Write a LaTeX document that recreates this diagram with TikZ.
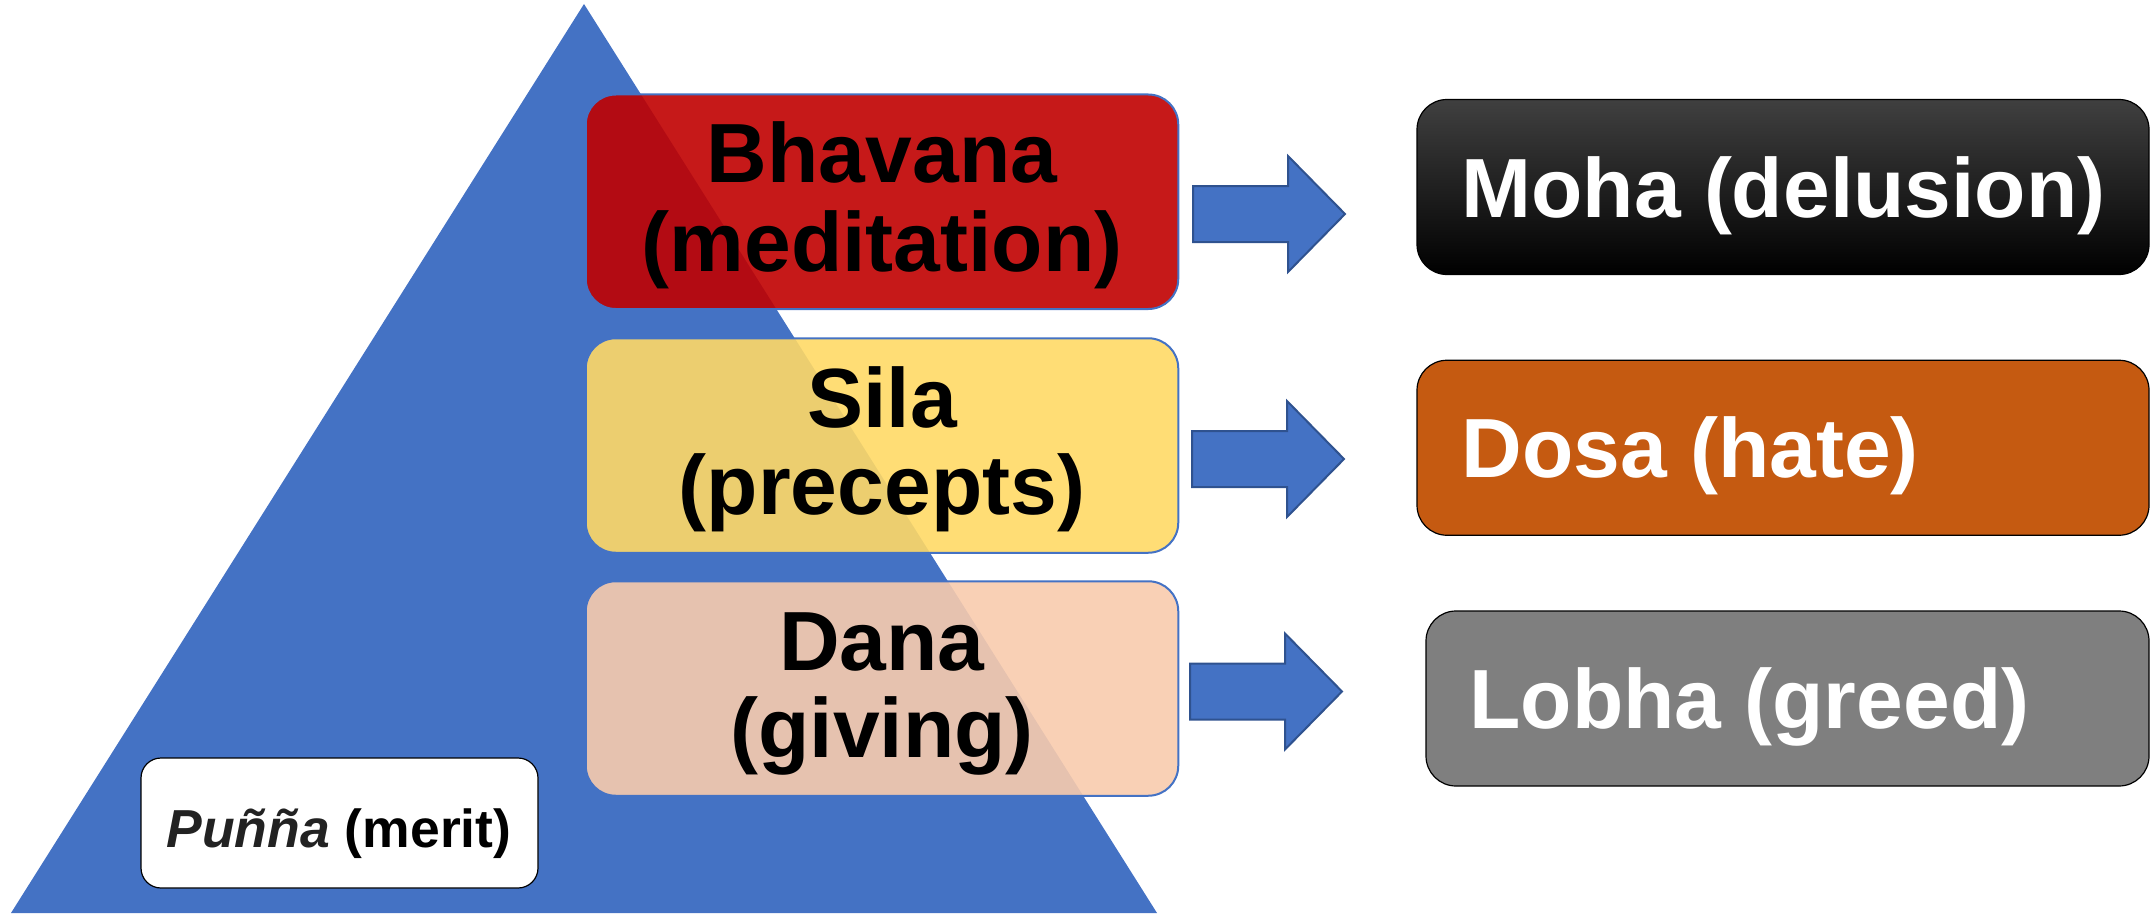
\documentclass[tikz,border=0pt]{standalone}
\usepackage{fontspec}
\setmainfont{Liberation Sans}
\usetikzlibrary{calc}
\definecolor{triblue}{HTML}{4472C4}
\definecolor{arrowedge}{HTML}{2F528F}
\definecolor{bhavred}{HTML}{C00000}
\definecolor{silayel}{HTML}{FFD966}
\definecolor{danapeach}{HTML}{F8CBAD}
\definecolor{dosaorange}{HTML}{C55A11}
\definecolor{lobhagray}{HTML}{7F7F7F}
\definecolor{punnatext}{HTML}{222222}
\tikzset{
  leftbox/.style={draw=triblue, line width=1pt, rounded corners=15pt, fill opacity=0.9,
    minimum width=296.25pt, minimum height=107.25pt, inner sep=0pt},
  rightbox/.style={draw=black, line width=0.6pt, rounded corners=15pt,
    minimum height=87.5pt, inner sep=0pt},
  bigtext/.style={inner sep=0pt, font=\fontsize{42pt}{44pt}\selectfont\bfseries},
  barrow/.style={fill=triblue, draw=arrowedge, line width=1pt, line join=miter},
  blockarrow/.pic={\draw[barrow] (0,-28) -- (95,-28) -- (95,-58) -- (152,0) -- (95,58) -- (95,28) -- (0,28) -- cycle;}
}
\begin{document}
\begin{tikzpicture}[x=0.5pt,y=-0.5pt]
\useasboundingbox (0,0) rectangle (2152,915);
% pyramid
\fill[triblue] (584,4) -- (1157,913) -- (11,913) -- cycle;
% left boxes
\node[leftbox, fill=bhavred] (bhav) at (882,201.75) {};
\node[leftbox, fill=silayel] (sila) at (882,445.5) {};
\node[leftbox, fill=danapeach] (dana) at (882,688.5) {};
\node[bigtext, anchor=base] (bhav1) at (882,183) {Bhavana};
\node[bigtext, anchor=base] (bhav2) at (882,271) {(meditation)};
\node[bigtext, anchor=base] (sila1) at (882,427) {Sila};
\node[bigtext, anchor=base] (sila2) at (882,514) {(precepts)};
\node[bigtext, anchor=base] (dana1) at (882,670) {Dana};
\node[bigtext, anchor=base] (dana2) at (882,757) {(giving)};
% merit box
\node[draw=black, line width=0.6pt, fill=white, rounded corners=10pt,
  minimum width=198.5pt, minimum height=65pt, inner sep=0pt] (punna) at (339.5,823) {};
\node[inner sep=0pt, anchor=base, font=\fontsize{26.75pt}{28pt}\selectfont\bfseries] (punnat) at (339,847)
  {\textcolor{punnatext}{\itshape Puñña} (merit)};
% arrows
\coordinate (a1) at (1193,214);
\coordinate (a2) at (1192,459);
\coordinate (a3) at (1190,691.5);
\pic at (a1) {blockarrow};
\pic at (a2) {blockarrow};
\pic at (a3) {blockarrow};
% right boxes
\node[rightbox, minimum width=366pt, top color=black!75, middle color=black, bottom color=black] (moha) at (1783,187) {};
\node[rightbox, minimum width=366pt, fill=dosaorange] (dosa) at (1783,447.75) {};
\node[rightbox, minimum width=361.5pt, fill=lobhagray] (lobha) at (1787.5,698.5) {};
\node[bigtext, anchor=base west, text=white] (mohat) at (1461,217) {Moha (delusion)};
\node[bigtext, anchor=base west, text=white] (dosat) at (1461,477) {Dosa (hate)};
\node[bigtext, anchor=base west, text=white] (lobhat) at (1469,728) {Lobha (greed)};
\end{tikzpicture}
\end{document}
